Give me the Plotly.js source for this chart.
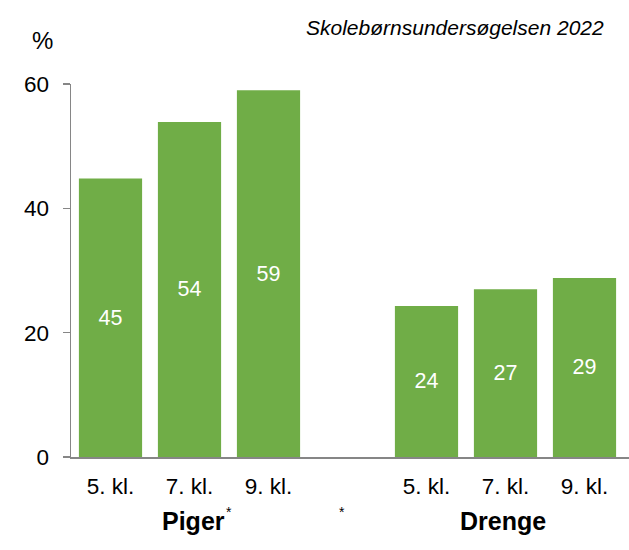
<!DOCTYPE html>
<html>
<head>
<meta charset="utf-8">
<script src="https://cdn.plot.ly/plotly-3.0.1.min.js"></script>
<style>html,body{margin:0;padding:0;background:#fff;}#chart{width:629px;height:550px;}</style>
</head>
<body>
<div id="chart"></div>
<script>
// Data
const gradeLabels = ["5. kl.", "7. kl.", "9. kl."];
const groups = ["Piger", "Drenge"];
const pigerValues = [44.8, 53.9, 59.0];
const drengeValues = [24.3, 27.0, 28.8];
const yTicks = [0, 20, 40, 60];
const subtitle = "Skolebørnsundersøgelsen 2022";

// positions: Piger slots 0-2, empty slot 3, Drenge slots 4-6
const xPos = [0, 1, 2, 4, 5, 6];
const yVals = pigerValues.concat(drengeValues);
const tickText = gradeLabels.concat(gradeLabels);

const W = 629, H = 550;
const L = 71, R = 0, T = 84, B = 92.5;
const plotW = W - L - R, plotH = H - T - B;
const slot = 79;
const px2x = px => (px - L) / plotW;
const py2y = py => (H - B - py) / plotH;

const trace = {
  type: 'bar',
  x: xPos,
  y: yVals,
  width: 0.8,
  marker: {color: '#70AD47', line: {width: 0}},
  texttemplate: '%{y:.0f}',
  textposition: 'inside',
  insidetextanchor: 'middle',
  textangle: 0,
  constraintext: 'none',
  textfont: {color: '#ffffff', size: 21.5, family: 'Liberation Sans, Arial, sans-serif'},
  hoverinfo: 'skip'
};

const layout = {
  width: W, height: H,
  margin: {l: L, r: R, t: T, b: B, pad: 0},
  paper_bgcolor: '#ffffff',
  plot_bgcolor: '#ffffff',
  showlegend: false,
  font: {family: 'Liberation Sans, Arial, sans-serif', color: '#000000'},
  bargap: 0.2,
  xaxis: {
    range: [-0.5, -0.5 + plotW / slot],
    tickmode: 'array',
    tickvals: xPos,
    ticktext: tickText,
    ticks: '',
    showgrid: false,
    zeroline: false,
    showline: true,
    linecolor: '#868686',
    linewidth: 1.5,
    tickfont: {size: 22.5, color: '#000000'},
    ticklabelstandoff: 8,
    fixedrange: true
  },
  yaxis: {
    range: [0, 60],
    tickmode: 'array',
    tickvals: yTicks,
    ticktext: yTicks.map(String),
    ticks: 'outside',
    ticklen: 7,
    tickwidth: 1.5,
    tickcolor: '#868686',
    showgrid: false,
    zeroline: false,
    showline: true,
    linecolor: '#868686',
    linewidth: 1.5,
    tickfont: {size: 22.5, color: '#000000'},
    ticklabelstandoff: 9,
    fixedrange: true
  },
  annotations: [
    {text: '%', xref: 'paper', yref: 'paper', x: px2x(42), y: py2y(40), xanchor: 'center', yanchor: 'middle',
     showarrow: false, font: {size: 24, color: '#000'}},
    {text: '<i>' + subtitle + '</i>', xref: 'paper', yref: 'paper', x: px2x(606), y: py2y(27), xanchor: 'right', yanchor: 'middle',
     showarrow: false, font: {size: 21, color: '#000'}},
    {text: '<b>' + groups[0] + '</b>', xref: 'x', yref: 'paper', x: 1, xshift: 4, y: py2y(522), xanchor: 'center', yanchor: 'middle',
     showarrow: false, font: {size: 25, color: '#000'}},
    {text: '*', xref: 'paper', yref: 'paper', x: px2x(229), y: py2y(513), xanchor: 'center', yanchor: 'middle',
     showarrow: false, font: {size: 14, color: '#000'}},
    {text: '*', xref: 'x', yref: 'paper', x: 3, xshift: -6, y: py2y(513), xanchor: 'center', yanchor: 'middle',
     showarrow: false, font: {size: 14, color: '#000'}},
    {text: '<b>' + groups[1] + '</b>', xref: 'x', yref: 'paper', x: 5, xshift: -3, y: py2y(522), xanchor: 'center', yanchor: 'middle',
     showarrow: false, font: {size: 25, color: '#000'}}
  ]
};

Plotly.newPlot('chart', [trace], layout, {staticPlot: true, displayModeBar: false});
</script>
</body>
</html>
